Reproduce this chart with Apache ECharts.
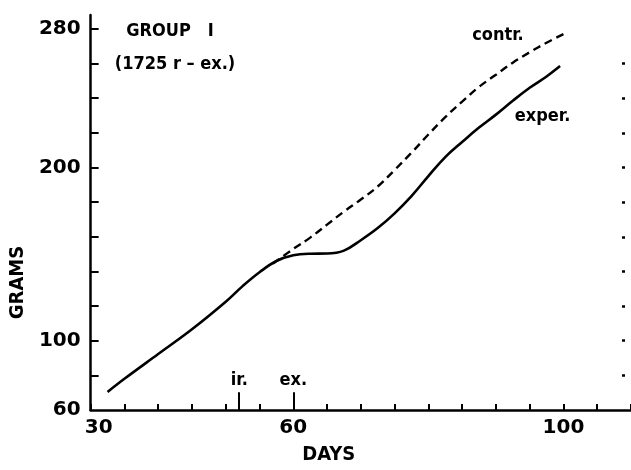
<!DOCTYPE html>
<html><head><meta charset="utf-8">
<script src="https://cdn.jsdelivr.net/npm/echarts@6/dist/echarts.min.js"></script>
<style>html,body{margin:0;padding:0;background:#fff}#c{width:631px;height:470px}</style>
</head><body><div id="c"></div>
<script>
// ---- data ----
const expDays  = [32.5, 35, 40, 45, 50, 52.5, 55, 57.5, 60, 62.5, 65, 67.5, 70, 72.5, 75, 77.5, 80, 82.5, 85, 87.5, 90, 92.5, 95, 97.5, 99.5];
const expGrams = [70.4, 78, 92.3, 106.6, 122.5, 131.5, 139.5, 146, 149.3, 150.2, 150.3, 152, 158, 165, 173.5, 183.5, 195, 206, 214.7, 223, 230.5, 238.5, 246, 252.5, 258.5];
const ctrlDays  = [57, 60, 62.5, 65, 67.5, 70, 72.5, 75, 77.5, 80, 82.5, 85, 87.5, 90, 92.5, 95, 97.5, 100];
const ctrlGrams = [144.5, 153, 159.5, 167, 174.5, 181.5, 189, 198.5, 208.5, 219, 229, 238, 246.5, 253.5, 260.5, 266.5, 272, 277];
const seriesNames = ['exper.', 'contr.'];
const xTickLabels = [30, 60, 100];
const yTickLabels = [60, 100, 200, 280];
const yTicks = [80, 100, 120, 140, 160, 180, 200, 220, 240, 260, 280];
const treatDays = [52, 60];
const treatNames = ['ir.', 'ex.'];
const titleLines = ['GROUP   I', '(1725 r \u2013 ex.)'];
const xName = 'DAYS';
const yName = 'GRAMS';

const FONT = '"DejaVu Sans"';
const CFONT = '"DejaVu Sans Condensed", "DejaVu Sans"';
const INK = '#000';

const expData = expDays.map((d, i) => [d, expGrams[i]]);
const ctrlData = ctrlDays.map((d, i) => [d, ctrlGrams[i]]);

const chart = echarts.init(document.getElementById('c'), null, {renderer: 'canvas'});
chart.setOption({
  animation: false,
  backgroundColor: '#fff',
  grid: {left: 87, right: -5, top: 15, bottom: 54, containLabel: false},
  xAxis: {
    type: 'value', min: 30, max: 110, interval: 5,
    name: xName, nameLocation: 'middle', nameGap: 35,
    nameTextStyle: {fontFamily: CFONT, fontWeight: 'bold', fontSize: 20, color: INK, padding: [0, 64, 0, 0]},
    axisLine: {show: true, onZero: false, lineStyle: {color: INK, width: 2.5}},
    axisTick: {show: true, inside: true, length: 6, lineStyle: {color: INK, width: 2}},
    axisLabel: {
      show: true, margin: 8, customValues: xTickLabels,
      fontFamily: FONT, fontWeight: 'bold', fontSize: 20, color: INK,
      formatter: v => v === 30 ? '{s|' + v + '}' : String(v),
      rich: {s: {fontFamily: FONT, fontWeight: 'bold', fontSize: 20, color: INK, padding: [0, 0, 0, 16]}}
    },
    splitLine: {show: false}
  },
  yAxis: [{
    type: 'value', min: 60, max: 288, interval: 20,
    name: yName, nameLocation: 'middle', nameGap: 56, nameRotate: 90,
    nameTextStyle: {fontFamily: CFONT, fontWeight: 'bold', fontSize: 20, color: INK, padding: [0, 140, 0, 0]},
    axisLine: {show: true, onZero: false, lineStyle: {color: INK, width: 2.5}},
    axisTick: {show: true, inside: true, length: 8, customValues: yTicks, lineStyle: {color: INK, width: 2}},
    axisLabel: {show: true, margin: 10, customValues: yTickLabels, fontFamily: FONT, fontWeight: 'bold', fontSize: 20, color: INK},
    splitLine: {show: false}
  }, {
    type: 'value', min: 60, max: 288, interval: 20, position: 'right', offset: -6,
    axisLine: {show: false},
    axisTick: {show: true, inside: true, length: 3, customValues: yTicks.slice(0, -1), lineStyle: {color: INK, width: 2.5}},
    axisLabel: {show: false},
    splitLine: {show: false}
  }],
  graphic: [
    {type: 'text', x: 170, y: 31, style: {text: titleLines[0], font: 'bold 18px ' + CFONT, fill: INK, align: 'center', verticalAlign: 'middle'}},
    {type: 'text', x: 175, y: 64, style: {text: titleLines[1], font: 'bold 18px ' + CFONT, fill: INK, align: 'center', verticalAlign: 'middle'}}
  ],
  series: [{
    name: seriesNames[0], type: 'line', data: expData, smooth: 0.4,
    showSymbol: false, symbol: 'none',
    lineStyle: {color: INK, width: 2.6, type: 'solid'},
    markPoint: {
      symbol: 'rect', symbolSize: 0, silent: true,
      label: {show: true, position: 'inside', formatter: '{b}', fontFamily: CFONT, fontWeight: 'bold', fontSize: 18, color: INK},
      data: [{name: seriesNames[0], coord: [96.9, 229.5]}]
    },
    markLine: {
      symbol: 'none', silent: true,
      lineStyle: {color: INK, width: 2, type: 'solid'},
      label: {show: true, position: 'end', distance: 3, formatter: '{b}', fontFamily: CFONT, fontWeight: 'bold', fontSize: 18, color: INK},
      data: treatDays.map((d, i) => [{name: treatNames[i], coord: [d, 60]}, {coord: [d, 70.3]}])
    }
  }, {
    name: seriesNames[1], type: 'line', data: ctrlData, smooth: 0.4,
    showSymbol: false, symbol: 'none',
    lineStyle: {color: INK, width: 2.4, type: [8, 5]},
    markPoint: {
      symbol: 'rect', symbolSize: 0, silent: true,
      label: {show: true, position: 'inside', formatter: '{b}', fontFamily: CFONT, fontWeight: 'bold', fontSize: 18, color: INK},
      data: [{name: seriesNames[1], coord: [90.3, 276.5]}]
    }
  }]
});
</script>
</body></html>
